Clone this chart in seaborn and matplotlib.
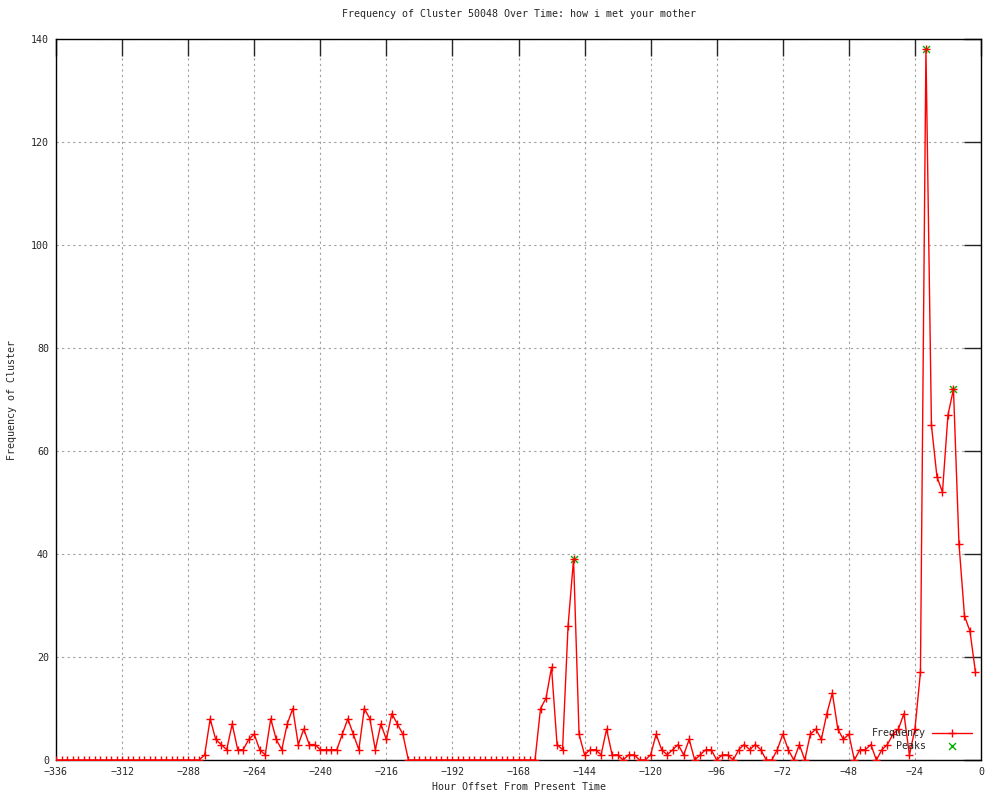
import numpy as np
import pandas as pd
import matplotlib
matplotlib.use('Agg')
import matplotlib.pyplot as plt
import seaborn as sns

# hourly offsets, one sample every 2 hours
hours = list(range(-336, 0, 2))

freq = (
    [0] * 27
    + [1, 8, 4, 3, 2, 7, 2, 2, 4, 5, 2, 1, 8, 4, 2, 7, 10, 3, 6, 3, 3,
       2, 2, 2, 2, 5, 8, 5, 2, 10, 8, 2, 7, 4, 9, 7, 5]
    + [0] * 24
    + [10, 12, 18, 3, 2, 26, 39, 5, 1, 2, 2, 1, 6, 1, 1, 0, 1, 1, 0, 0,
       1, 5, 2, 1, 2, 3, 1, 4, 0, 1, 2, 2, 0, 1, 1, 0, 2, 3, 2, 3,
       2, 0, 0, 2, 5, 2, 0, 3, 0, 5, 6, 4, 9, 13, 6, 4, 5, 0, 2, 2,
       3, 0, 2, 3, 5, 6, 9, 1, 6, 17, 138, 65, 55, 52, 67, 72, 42, 28, 25, 17]
)

peak_hours = [-148, -20, -10]
peak_vals = [39, 138, 72]

x_ticks = list(range(-336, 1, 24))
y_ticks = list(range(0, 141, 20))

df = pd.DataFrame({'Hour': hours, 'Frequency': freq})
peaks = pd.DataFrame({'Hour': peak_hours, 'Frequency': peak_vals})

sns.set_style('white')
plt.rcParams['font.family'] = ['DejaVu Sans Mono']
plt.rcParams['font.size'] = 7.2

fig = plt.figure(figsize=(10, 8), dpi=100)
ax = fig.add_axes([0.056, 0.05, 0.925, 0.90125])

sns.lineplot(data=df, x='Hour', y='Frequency', ax=ax, color='red', linewidth=1.0,
             marker='+', markersize=5.5, markeredgewidth=1, markeredgecolor='red',
             label='Frequency', zorder=3)
sns.scatterplot(data=peaks, x='Hour', y='Frequency', ax=ax, color='#00b000',
                marker='x', s=25, linewidth=1, label='Peaks', zorder=2)

ax.set_xlim(-336, 0)
ax.set_ylim(0, 140)
ax.set_xticks(x_ticks)
ax.set_yticks(y_ticks)
ax.grid(True, color='#a0a0a0', linestyle=(0, (2, 3)), linewidth=0.8)
ax.tick_params(direction='in', length=12, width=1, top=True, right=True,
               labeltop=False, labelright=False, labelsize=7.2, pad=5)
for s in ax.spines.values():
    s.set_color('black')
    s.set_linewidth(1)

ax.set_title('Frequency of Cluster 50048 Over Time: how i met your mother',
             fontsize=7.2, pad=16)
ax.set_xlabel('Hour Offset From Present Time', fontsize=7.2, labelpad=4)
ax.set_ylabel('Frequency of Cluster', fontsize=7.2, labelpad=10)

leg = ax.legend(loc='lower right', frameon=False, markerfirst=False,
                fontsize=7.2, handlelength=4, borderaxespad=0.5,
                labelspacing=0.25, handletextpad=0.6)

fig.savefig('out.png', dpi=100)
